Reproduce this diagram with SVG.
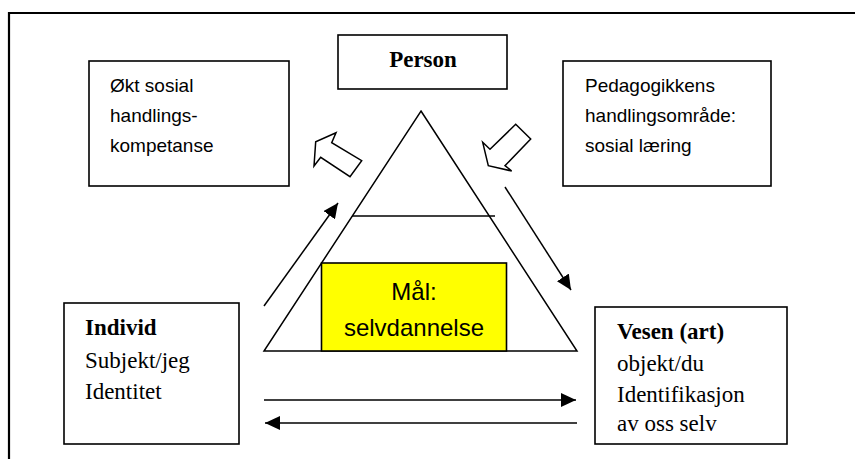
<svg xmlns="http://www.w3.org/2000/svg" width="855" height="459" viewBox="0 0 855 459">
<style>
.box{fill:#fff;stroke:#000;stroke-width:1.6}
.ln{fill:none;stroke:#000;stroke-width:1.5}
.sans{font-family:"Liberation Sans",Arial,sans-serif;font-size:19px;fill:#000}
.serif{font-family:"Liberation Serif","Times New Roman",serif;font-size:23px;fill:#000}
.b{font-weight:bold}
</style>
<defs>
<marker id="ah" viewBox="0 0 15 14" refX="15" refY="7" markerWidth="15" markerHeight="14" markerUnits="userSpaceOnUse" orient="auto">
<path d="M0,0 L15,7 L0,14 Z" fill="#000"/>
</marker>
</defs>
<rect width="855" height="459" fill="#fff"/>
<g id="frame">
<path d="M9,459 V13 H855" fill="none" stroke="#000" stroke-width="2.2"/>
</g>
<g id="triangle">
<path class="ln" d="M421,111 L577,351 L264,351 Z"/>
<line class="ln" x1="352" y1="216" x2="495" y2="216"/>
</g>
<g id="goal">
<rect x="321.5" y="263" width="185" height="88" fill="#ffff00" stroke="#000" stroke-width="1.6"/>
<text class="sans" x="414" y="300" text-anchor="middle" style="font-size:24px">Mål:</text>
<text class="sans" x="414" y="336" text-anchor="middle" style="font-size:24px">selvdannelse</text>
</g>
<g id="person">
<rect class="box" x="338" y="35" width="169" height="54"/>
<text class="serif b" x="423" y="67" text-anchor="middle">Person</text>
</g>
<g id="okt">
<rect class="box" x="89" y="61" width="200" height="125"/>
<text class="sans" x="110" y="92">Økt sosial</text>
<text class="sans" x="110" y="122">handlings-</text>
<text class="sans" x="110" y="152">kompetanse</text>
</g>
<g id="pedagogikk">
<rect class="box" x="563" y="61" width="208" height="125"/>
<text class="sans" x="585" y="92">Pedagogikkens</text>
<text class="sans" x="585" y="122">handlingsområde:</text>
<text class="sans" x="585" y="152">sosial læring</text>
</g>
<g id="individ">
<rect class="box" x="64" y="303" width="175" height="141"/>
<text class="serif b" x="85" y="335">Individ</text>
<text class="serif" x="85" y="368">Subjekt/jeg</text>
<text class="serif" x="85" y="399">Identitet</text>
</g>
<g id="vesen">
<rect class="box" x="595" y="307" width="192" height="137"/>
<text class="serif b" x="617" y="339">Vesen (art)</text>
<text class="serif" x="617" y="371">objekt/du</text>
<text class="serif" x="617" y="402">Identifikasjon</text>
<text class="serif" x="617" y="431">av oss selv</text>
</g>
<g id="connectors">
<polygon class="ln" points="336,132.7 315.7,141.7 314,166 320.7,157.3 350,176.7 361.7,160.7 331.7,142.7"/>
<polygon class="ln" points="515.7,124.3 530.7,139 505,165.7 511.7,171 488.3,165.7 482.7,142.3 490,149.3"/>
<line class="ln" x1="264" y1="306" x2="338" y2="203" marker-end="url(#ah)"/>
<line class="ln" x1="505" y1="187" x2="571" y2="290" marker-end="url(#ah)"/>
<line class="ln" x1="264" y1="400" x2="576" y2="400" marker-end="url(#ah)"/>
<line class="ln" x1="577" y1="423" x2="265" y2="423" marker-end="url(#ah)"/>
</g>
</svg>
